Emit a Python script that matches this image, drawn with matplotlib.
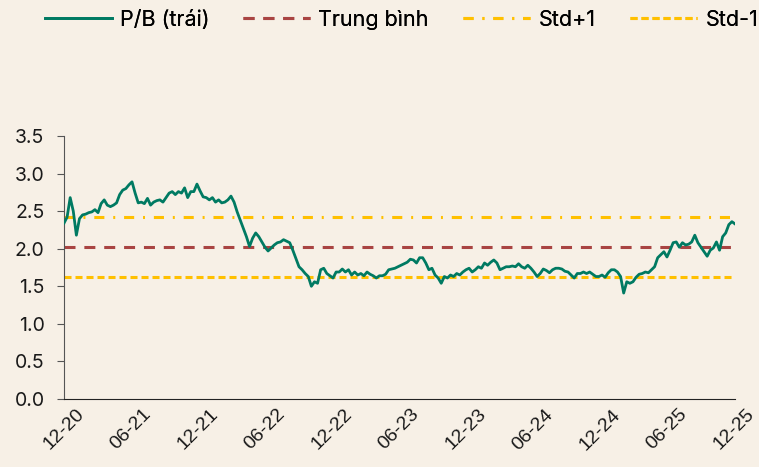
import matplotlib
matplotlib.use('Agg')
import matplotlib.pyplot as plt
import pandas as pd

# P/B series (roughly every 9-10 days, Dec 2020 -> Dec 2025)
pb = [
    2.34, 2.42, 2.68, 2.50, 2.18, 2.40, 2.45, 2.46, 2.48, 2.49,
    2.52, 2.48, 2.60, 2.65, 2.58, 2.56, 2.58, 2.61, 2.72, 2.78,
    2.80, 2.85, 2.89, 2.74, 2.61, 2.62, 2.60, 2.67, 2.58, 2.62,
    2.64, 2.65, 2.62, 2.68, 2.74, 2.76, 2.72, 2.76, 2.74, 2.81,
    2.68, 2.76, 2.76, 2.86, 2.77, 2.69, 2.68, 2.65, 2.68, 2.62,
    2.65, 2.61, 2.62, 2.65, 2.70, 2.62, 2.49, 2.38, 2.27, 2.16,
    2.03, 2.14, 2.21, 2.16, 2.09, 2.02, 1.97, 2.01, 2.05, 2.08,
    2.09, 2.12, 2.10, 2.08, 1.98, 1.87, 1.76, 1.72, 1.67, 1.63,
    1.50, 1.56, 1.54, 1.72, 1.74, 1.67, 1.64, 1.61, 1.69, 1.69,
    1.73, 1.69, 1.72, 1.65, 1.69, 1.65, 1.67, 1.64, 1.69, 1.66,
    1.64, 1.61, 1.64, 1.64, 1.66, 1.72, 1.73, 1.74, 1.76, 1.78,
    1.80, 1.82, 1.86, 1.85, 1.81, 1.88, 1.88, 1.81, 1.72, 1.74,
    1.65, 1.61, 1.54, 1.63, 1.61, 1.65, 1.63, 1.67, 1.65, 1.69,
    1.72, 1.74, 1.69, 1.72, 1.76, 1.74, 1.81, 1.78, 1.82, 1.85,
    1.81, 1.72, 1.74, 1.76, 1.76, 1.77, 1.76, 1.80, 1.76, 1.74,
    1.78, 1.74, 1.69, 1.63, 1.67, 1.73, 1.71, 1.68, 1.72, 1.74,
    1.74, 1.73, 1.70, 1.69, 1.65, 1.61, 1.67, 1.67, 1.69, 1.67,
    1.69, 1.66, 1.63, 1.63, 1.65, 1.62, 1.68, 1.72, 1.72, 1.69,
    1.63, 1.41, 1.56, 1.54, 1.56, 1.62, 1.66, 1.67, 1.69, 1.68,
    1.72, 1.76, 1.88, 1.92, 1.96, 1.89, 1.98, 2.08, 2.09, 2.02,
    2.08, 2.05, 2.06, 2.09, 2.18, 2.08, 2.02, 1.96, 1.90, 1.98,
    2.01, 2.09, 1.98, 2.16, 2.21, 2.32, 2.36, 2.33,
]
start_date = "2020-12-01"
end_date = "2025-12-05"

pb_mean = 2.02
pb_std_up = 2.42
pb_std_down = 1.62

tick_dates = pd.date_range("2020-12-01", "2025-12-01", freq="6MS")
tick_labels = [d.strftime("%m-%y") for d in tick_dates]
y_ticks = [0.0, 0.5, 1.0, 1.5, 2.0, 2.5, 3.0, 3.5]

BG = "#F7F0E6"
GREEN = "#007A62"
RED = "#A94442"
YELLOW = "#FFC000"

dates = pd.date_range(start_date, end_date, periods=len(pb))

fig = plt.figure(figsize=(7.59, 4.67), dpi=100, facecolor=BG)
ax = fig.add_axes([64 / 759, 1 - 399 / 467, (735 - 64) / 759, (399 - 136) / 467])
ax.set_facecolor(BG)

handles = []
handles += ax.plot(dates, pb, color=GREEN, lw=2.0, label="P/B (trái)", zorder=3)
handles.append(ax.axhline(pb_mean, color=RED, lw=2.2, dashes=(3.6, 2.9), label="Trung bình", zorder=2))
handles.append(ax.axhline(pb_std_up, color=YELLOW, lw=2.2, dashes=(3.3, 2.9, 0.65, 2.9), label="Std+1", zorder=2))
handles.append(ax.axhline(pb_std_down, color=YELLOW, lw=2.2, dashes=(2.3, 1.3), label="Std-1", zorder=2))

ax.set_xlim(dates[0], dates[-1])
ax.set_ylim(0, 3.5)
ax.set_yticks(y_ticks)
ax.set_yticklabels([f"{v:.1f}" for v in y_ticks], fontsize=14, family="Inter", color="#1a1a1a")
ax.set_xticks(tick_dates)
ax.set_xticklabels(tick_labels, rotation=45, fontsize=14, family="Liberation Sans", color="#1a1a1a")
ax.tick_params(axis="x", length=0, pad=5)
ax.tick_params(axis="y", length=5, color="#555555", pad=9)

for side in ("top", "right"):
    ax.spines[side].set_visible(False)
ax.spines["left"].set_color("#555555")
ax.spines["bottom"].set_color("#222222")

# one legend per entry so the uneven spacing of the original can be matched
legend_x = [45, 243, 463, 630]
for h, lx in zip(handles, legend_x):
    leg = fig.legend(
        [h], [h.get_label()],
        loc="center left",
        bbox_to_anchor=(lx / 759, 1 - 20 / 467),
        frameon=False,
        borderpad=0,
        borderaxespad=0,
        handlelength=3.1,
        handletextpad=0.4,
        prop={"family": "Inter", "size": 15.5},
    )
    fig.add_artist(leg)

fig.savefig("out.png", dpi=100, facecolor=BG)
